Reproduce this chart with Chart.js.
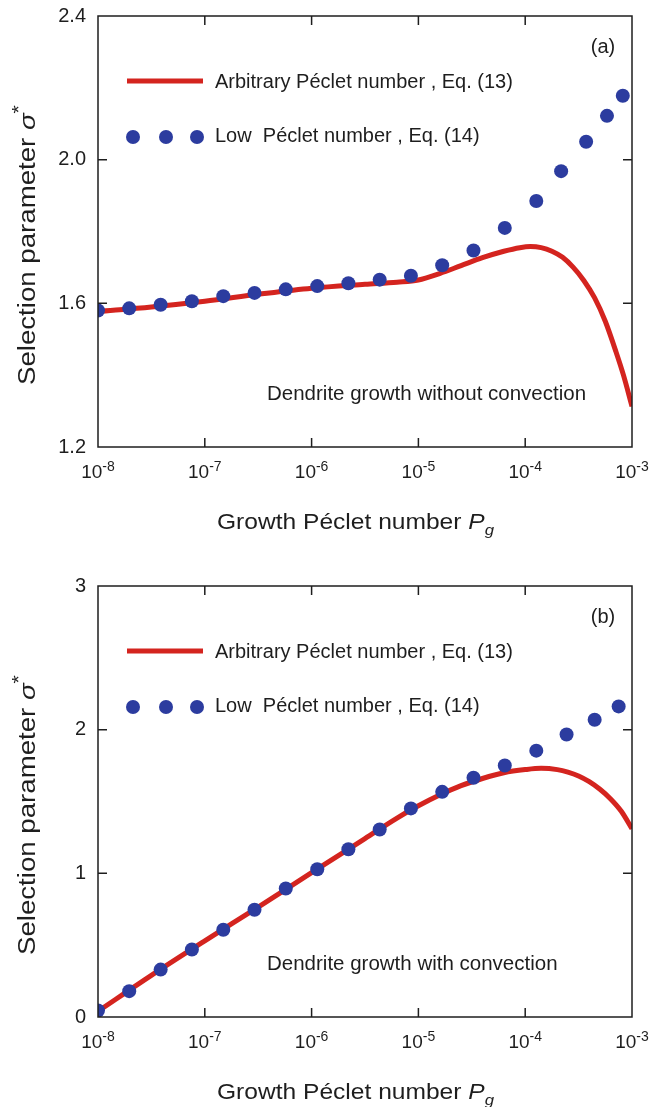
<!DOCTYPE html>
<html>
<head>
<meta charset="utf-8">
<script src="https://cdn.jsdelivr.net/npm/chart.js@4.4.1/dist/chart.umd.min.js"></script>
<style>
  body { margin: 0; background: #fff; }
  .panel { position: absolute; left: 0; width: 649px; }
</style>
</head>
<body>
<div class="panel" style="top:0;height:553px"><canvas id="chartA"></canvas></div>
<div class="panel" style="top:553px;height:554px"><canvas id="chartB"></canvas></div>
<script>
const FONT = "'Liberation Sans', Arial, sans-serif";
const INK = "#1e1e1e";

const decades = [1e-8, 1e-7, 1e-6, 1e-5, 1e-4, 1e-3];
const legendLabels = ["Arbitrary P\u00e9clet number , Eq. (13)", "Low  P\u00e9clet number , Eq. (14)"];

// panel (a): without convection
const pgLineA = [1e-8, 3.16e-8, 1e-7, 3.16e-7, 1e-6, 3.16e-6, 6.31e-6, 1e-5, 1.58e-5, 2.51e-5, 3.98e-5, 6.31e-5,
  8.91e-5, 1.12e-4, 1.41e-4, 1.78e-4, 2.24e-4, 2.82e-4, 3.55e-4, 4.47e-4, 5.62e-4, 7.08e-4, 8.32e-4, 1e-3];
const sigmaLineA = [1.577, 1.590, 1.606, 1.625, 1.642, 1.653, 1.659, 1.665, 1.683, 1.705, 1.727, 1.745,
  1.755, 1.758, 1.755, 1.745, 1.728, 1.700, 1.663, 1.615, 1.550, 1.465, 1.400, 1.313];
const pgDotsA = [1e-8, 1.96e-8, 3.86e-8, 7.57e-8, 1.49e-7, 2.92e-7, 5.73e-7, 1.13e-6, 2.21e-6, 4.34e-6,
  8.51e-6, 1.67e-5, 3.28e-5, 6.44e-5, 1.27e-4, 2.17e-4, 3.72e-4, 5.83e-4, 8.2e-4];
const sigmaDotsA = [1.580, 1.586, 1.596, 1.606, 1.620, 1.629, 1.639, 1.648, 1.656, 1.666,
  1.677, 1.706, 1.747, 1.810, 1.885, 1.968, 2.050, 2.122, 2.178];
const yTicksA = [1.2, 1.6, 2.0, 2.4];

// panel (b): with convection
const pgLineB = [1e-8, 3.16e-8, 1e-7, 3.16e-7, 1e-6, 3.16e-6, 6.31e-6, 1e-5, 1.58e-5, 2.51e-5, 3.98e-5,
  6.31e-5, 1e-4, 1.41e-4, 2e-4, 2.51e-4, 3.16e-4, 3.98e-4, 5.01e-4, 6.31e-4, 7.94e-4, 1e-3];
const sigmaLineB = [0.04, 0.29, 0.53, 0.765, 1.005, 1.242, 1.385, 1.47, 1.545, 1.61, 1.66,
  1.70, 1.722, 1.731, 1.722, 1.705, 1.678, 1.638, 1.585, 1.518, 1.432, 1.31];
const pgDotsB = [1e-8, 1.96e-8, 3.86e-8, 7.57e-8, 1.49e-7, 2.92e-7, 5.73e-7, 1.13e-6, 2.21e-6, 4.34e-6,
  8.51e-6, 1.67e-5, 3.28e-5, 6.44e-5, 1.27e-4, 2.44e-4, 4.47e-4, 7.5e-4];
const sigmaDotsB = [0.045, 0.18, 0.33, 0.47, 0.607, 0.747, 0.894, 1.028, 1.168, 1.305,
  1.452, 1.567, 1.665, 1.751, 1.854, 1.966, 2.069, 2.162];
const yTicksB = [0, 1, 2, 3];

const RED = "#d4241f";
const BLUE = "#2c3c9f";

// draws a row of text pieces, optionally squeezed/stretched to a given width
function drawRuns(ctx, runs, x, y, fitWidth) {
  let w = 0;
  runs.forEach(r => { ctx.font = r.font; r.w = ctx.measureText(r.t).width; w += r.w; });
  const k = fitWidth ? fitWidth / w : 1;
  ctx.save();
  ctx.translate(x, y);
  ctx.scale(k, 1);
  let cx = 0;
  runs.forEach(r => { ctx.font = r.font; ctx.fillText(r.t, cx, r.dy || 0); cx += r.w; });
  ctx.restore();
}

const decoPlugin = {
  id: "deco",
  afterDraw(chart, args, o) {
    const { ctx, chartArea: a, scales } = chart;
    const xs = scales.x, ys = scales.y;
    ctx.save();
    ctx.strokeStyle = INK;
    ctx.fillStyle = INK;
    ctx.lineWidth = 1.5;
    ctx.strokeRect(a.left, a.top, a.right - a.left, a.bottom - a.top);

    // inward ticks on all four sides
    ctx.beginPath();
    decades.slice(1, -1).forEach(v => {
      const px = xs.getPixelForValue(v);
      ctx.moveTo(px, a.bottom); ctx.lineTo(px, a.bottom - 9);
      ctx.moveTo(px, a.top); ctx.lineTo(px, a.top + 9);
    });
    o.yTicks.slice(1, -1).forEach(v => {
      const py = ys.getPixelForValue(v);
      ctx.moveTo(a.left, py); ctx.lineTo(a.left + 9, py);
      ctx.moveTo(a.right, py); ctx.lineTo(a.right - 9, py);
    });
    ctx.stroke();

    // x tick labels 10^n
    ctx.textBaseline = "alphabetic";
    decades.forEach(v => {
      const px = xs.getPixelForValue(v);
      const exp = String(Math.round(Math.log10(v)));
      ctx.font = "19px " + FONT;
      const w1 = ctx.measureText("10").width;
      ctx.font = "14px " + FONT;
      const w2 = ctx.measureText(exp).width;
      drawRuns(ctx, [
        { t: "10", font: "19px " + FONT },
        { t: exp, font: "14px " + FONT, dy: -7 }
      ], px - (w1 + w2) / 2, a.bottom + 31);
    });

    // x title
    drawRuns(ctx, [
      { t: "Growth P\u00e9clet number ", font: "22px " + FONT },
      { t: "P", font: "italic 22px " + FONT },
      { t: "g", font: "italic 15px " + FONT, dy: 6 }
    ], 217, a.bottom + 82, 277);

    // y title
    ctx.save();
    ctx.translate(35, a.bottom - 62);
    ctx.rotate(-Math.PI / 2);
    drawRuns(ctx, [
      { t: "Selection parameter ", font: "23px " + FONT },
      { t: "\u03c3", font: "italic 23px " + FONT },
      { t: "*", font: "18px " + FONT, dy: -10 }
    ], 0, 0, 280);
    ctx.restore();

    // legend
    ctx.strokeStyle = RED;
    ctx.lineWidth = 5;
    ctx.beginPath();
    ctx.moveTo(127, a.top + 65); ctx.lineTo(203, a.top + 65);
    ctx.stroke();
    ctx.fillStyle = BLUE;
    [133, 166, 197].forEach(cx => {
      ctx.beginPath(); ctx.arc(cx, a.top + 121, 7, 0, Math.PI * 2); ctx.fill();
    });
    ctx.fillStyle = INK;
    ctx.textBaseline = "middle";
    ctx.font = "20px " + FONT;
    ctx.fillText(legendLabels[0], 215, a.top + 66);
    ctx.fillText(legendLabels[1], 215, a.top + 120);

    // panel tag and note
    ctx.textAlign = "center";
    ctx.fillText(o.tag, 603, a.top + 31);
    ctx.textAlign = "left";
    ctx.font = "20.5px " + FONT;
    ctx.fillText(o.note, 267, a.bottom - 53);
    ctx.restore();
  }
};

function makePanel(id, cfg) {
  return new Chart(document.getElementById(id), {
    type: "scatter",
    data: {
      datasets: [
        {
          label: legendLabels[1],
          data: cfg.pgDots.map((x, i) => ({ x, y: cfg.sigmaDots[i] })),
          backgroundColor: BLUE,
          borderWidth: 0,
          pointRadius: 7,
          clip: 0,
          order: 0
        },
        {
          label: legendLabels[0],
          data: cfg.pgLine.map((x, i) => ({ x, y: cfg.sigmaLine[i] })),
          showLine: true,
          borderColor: RED,
          borderWidth: 5,
          pointRadius: 0,
          cubicInterpolationMode: "monotone",
          clip: 0,
          order: 1
        }
      ]
    },
    options: {
      responsive: true,
      maintainAspectRatio: false,
      animation: false,
      devicePixelRatio: 1,
      layout: { padding: { top: cfg.padTop, right: 17, left: 0, bottom: 0 } },
      plugins: {
        legend: { display: false },
        tooltip: { enabled: false },
        deco: { tag: cfg.tag, note: cfg.note, yTicks: cfg.yTicks }
      },
      scales: {
        x: {
          type: "logarithmic",
          min: 1e-8,
          max: 1e-3,
          afterBuildTicks: s => { s.ticks = decades.map(v => ({ value: v })); },
          afterFit: s => { s.height = cfg.xHeight; s.paddingLeft = 0; s.paddingRight = 0; },
          ticks: { display: false },
          grid: { display: false, drawTicks: false },
          border: { display: false }
        },
        y: {
          min: cfg.yTicks[0],
          max: cfg.yTicks[cfg.yTicks.length - 1],
          afterBuildTicks: s => { s.ticks = cfg.yTicks.map(v => ({ value: v })); },
          afterFit: s => { s.width = 98; s.paddingTop = 0; s.paddingBottom = 0; },
          ticks: {
            padding: 12,
            color: INK,
            font: { family: FONT, size: 20 },
            callback: v => cfg.yFmt(v)
          },
          grid: { display: false, drawTicks: false },
          border: { display: false }
        }
      }
    },
    plugins: [decoPlugin]
  });
}

makePanel("chartA", {
  pgLine: pgLineA, sigmaLine: sigmaLineA, pgDots: pgDotsA, sigmaDots: sigmaDotsA,
  yTicks: yTicksA, yFmt: v => v.toFixed(1), padTop: 16, xHeight: 106,
  tag: "(a)", note: "Dendrite growth without convection"
});

makePanel("chartB", {
  pgLine: pgLineB, sigmaLine: sigmaLineB, pgDots: pgDotsB, sigmaDots: sigmaDotsB,
  yTicks: yTicksB, yFmt: v => String(v), padTop: 33, xHeight: 90,
  tag: "(b)", note: "Dendrite growth with convection"
});
</script>
</body>
</html>
